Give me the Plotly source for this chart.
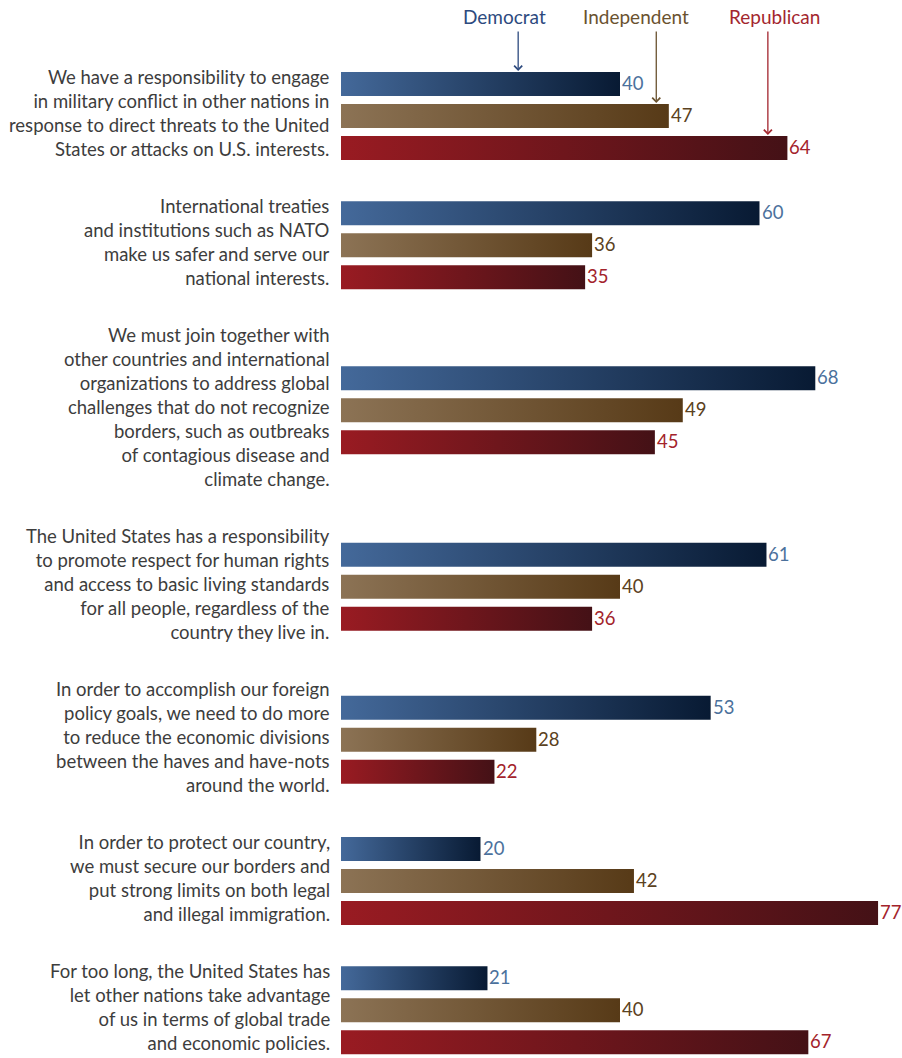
import plotly.graph_objects as go

# ---- data ----
statements = [
    ["We have a responsibility to engage", "in military conflict in other nations in",
     "response to direct threats to the United", "States or attacks on U.S. interests."],
    ["International treaties", "and institutions such as NATO",
     "make us safer and serve our", "national interests."],
    ["We must join together with", "other countries and international",
     "organizations to address global", "challenges that do not recognize",
     "borders, such as outbreaks", "of contagious disease and", "climate change."],
    ["The United States has a responsibility", "to promote respect for human rights",
     "and access to basic living standards", "for all people, regardless of the",
     "country they live in."],
    ["In order to accomplish our foreign", "policy goals, we need to do more",
     "to reduce the economic divisions", "between the haves and have-nots",
     "around the world."],
    ["In order to protect our country,", "we must secure our borders and",
     "put strong limits on both legal", "and illegal immigration."],
    ["For too long, the United States has", "let other nations take advantage",
     "of us in terms of global trade", "and economic policies."],
]
parties = ["Democrat", "Independent", "Republican"]
democrat = [40, 60, 68, 61, 53, 20, 21]
independent = [47, 36, 49, 40, 28, 42, 40]
republican = [64, 35, 45, 36, 22, 77, 67]
series = [democrat, independent, republican]

# ---- styles ----
grad = {
    "Democrat": ["#44699a", "#081a33"],
    "Independent": ["#8c7355", "#573a17"],
    "Republican": ["#991b22", "#441116"],
}
value_col = {"Democrat": "#4b719c", "Independent": "#5b4121", "Republican": "#a3232b"}
head_col = {"Democrat": "#2d4a7e", "Independent": "#6a522f", "Republican": "#a3262e"}
FONT = "Lato"
FS = 18.5

W, H = 902, 1058
LEFT = 341
PX_PER_UNIT = 6.975
BAR_H = 24
BAR_STEP = 32
LINE_H = 23.7
GAP = 34.5

# group centers from label sizes
heights = [max(BAR_STEP * 2 + BAR_H, len(s) * LINE_H) for s in statements]
centers = [116.0]
for i in range(1, len(statements)):
    centers.append(centers[-1] + GAP + (heights[i - 1] + heights[i]) / 2)

fig = go.Figure()
annotations = []
for p_i, (party, vals) in enumerate(zip(parties, series)):
    for g, v in enumerate(vals):
        yc = centers[g] + (p_i - 1) * BAR_STEP
        y0, y1 = yc - BAR_H / 2, yc + BAR_H / 2
        fig.add_trace(go.Scatter(
            x=[0, v, v, 0, 0], y=[y0, y0, y1, y1, y0],
            mode="lines", line=dict(width=0), fill="toself",
            fillgradient=dict(type="horizontal",
                              colorscale=[[0, grad[party][0]], [1, grad[party][1]]]),
            hoverinfo="skip", showlegend=False,
        ))
        annotations.append(dict(
            x=v, y=yc, xref="x", yref="y", xanchor="left", yanchor="middle",
            xshift=0, yshift=1, showarrow=False, text=str(v),
            font=dict(family=FONT, size=FS, color=value_col[party]),
        ))

for g, lines in enumerate(statements):
    annotations.append(dict(
        x=0, y=centers[g], xref="x", yref="y", xanchor="right", yanchor="middle",
        xshift=-9, yshift=3, align="right", showarrow=False,
        text="<br>".join(lines),
        font=dict(family=FONT, size=FS, color="#3d3d3d"),
    ))

# header labels with arrows
head_x = [23.5, 42.3, 62.2]
arrow_x = [25.4, 45.2, 61.2]
for p_i, party in enumerate(parties):
    annotations.append(dict(
        x=head_x[p_i], y=16, xref="x", yref="y", showarrow=False,
        text=party, font=dict(family=FONT, size=FS + 0.5, color=head_col[party]),
    ))
    top_bar = centers[0] + (p_i - 1) * BAR_STEP - BAR_H / 2
    annotations.append(dict(
        x=arrow_x[p_i], y=top_bar - 1, xref="x", yref="y",
        ax=arrow_x[p_i], ay=30, axref="x", ayref="y",
        text="", showarrow=True, arrowhead=4, arrowsize=1.2, arrowwidth=1.3,
        arrowcolor=head_col[party],
    ))

fig.update_layout(
    width=W, height=H,
    margin=dict(l=LEFT, r=0, t=0, b=0),
    paper_bgcolor="white", plot_bgcolor="white",
    xaxis=dict(range=[0, (W - LEFT) / PX_PER_UNIT], visible=False, fixedrange=True),
    yaxis=dict(range=[H, 0], visible=False, fixedrange=True),
    annotations=annotations,
    showlegend=False,
)

fig.write_html(
    "out.html",
    config={"displayModeBar": False, "staticPlot": True},
    post_script="document.body.style.margin='0';document.body.style.overflow='hidden';",
)
